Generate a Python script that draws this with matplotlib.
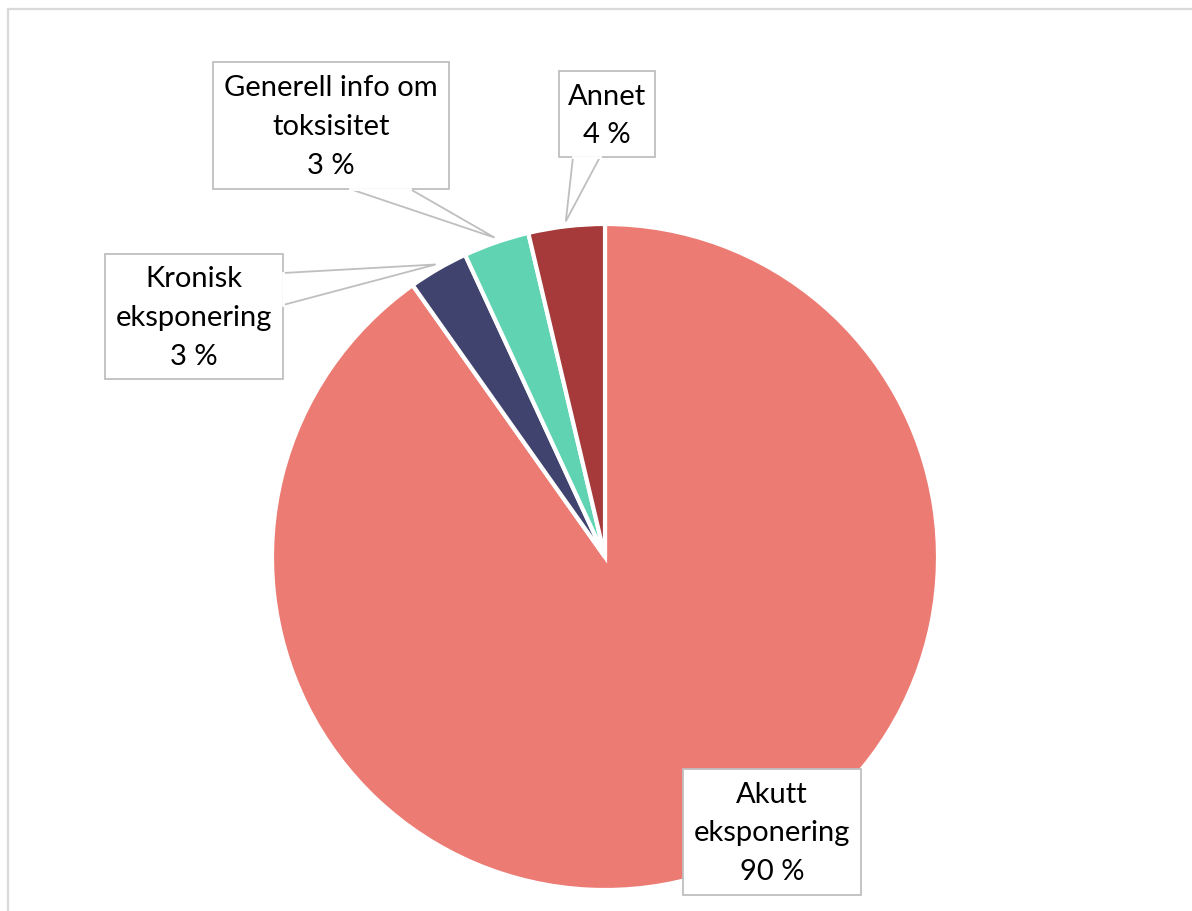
import numpy as np
import matplotlib.pyplot as plt
from matplotlib.patches import Polygon, Rectangle

# data
labels = ["Akutt\neksponering", "Kronisk\neksponering",
          "Generell info om\ntoksisitet", "Annet"]
values = [90.2, 2.9, 3.2, 3.7]
colors = ["#EC7B73", "#3F436E", "#60D4B2", "#A63A3A"]

W, H = 1192, 911
fig = plt.figure(figsize=(W / 100, H / 100), dpi=100)
ax = fig.add_axes([0, 0, 1, 1])

FONT = {"family": ["Lato", "DejaVu Sans"], "fontsize": 21, "color": "black"}
EDGE = "#BFBFBF"


def py(y):
    # pixel row -> data y
    return H - y


cx, cy, r = 605, py(557), 333
wedges, _ = ax.pie(values, colors=colors, startangle=90, counterclock=False,
                   center=(cx, cy), radius=r, frame=True,
                   wedgeprops=dict(edgecolor="white", linewidth=3))
ax.set_xlim(0, W)
ax.set_ylim(0, H)
ax.set_aspect("equal")
ax.axis("off")

# outer chart border (right/bottom run off the image)
ax.add_patch(Rectangle((8, py(1000)), 1300, 1000 - 9, fill=False,
                       ec="#D9D9D9", lw=1.6))

# callout boxes: (x0, y0, x1, y1) in pixel rows, pointer base, line rows
boxes = [
    dict(box=(683, 769, 861, 895), base=None, rows=[795, 833, 872]),
    dict(box=(105, 254, 283, 379), base=[(283, 273), (283, 305)], rows=[279, 318, 357]),
    dict(box=(213, 62, 449, 189), base=[(350, 189), (410, 189)], rows=[88, 127, 166]),
    dict(box=(559, 71, 655, 157), base=[(573, 157), (600, 157)], rows=[97, 135]),
]

total = sum(values)
for w, lab, v, b in zip(wedges, labels, values, boxes):
    x0, y0, x1, y1 = b["box"]
    mid = np.deg2rad((w.theta1 + w.theta2) / 2)
    tip = (cx + 1.015 * r * np.cos(mid), cy + 1.015 * r * np.sin(mid))
    ax.add_patch(Rectangle((x0, py(y1)), x1 - x0, y1 - y0, fc="white",
                           ec=EDGE, lw=1.3, zorder=5))
    if b["base"] is not None:
        (ax_, ay_), (bx_, by_) = b["base"]
        ax.add_patch(Polygon([(ax_, py(ay_)), tip, (bx_, py(by_))], closed=False,
                             fc="white", ec=EDGE, lw=1.3, zorder=4))
        ax.plot([ax_, bx_], [py(ay_), py(by_)], color="white", lw=2, zorder=5.5)
    lines = lab.split("\n") + [f"{round(v / total * 100):.0f} %"]
    for txt, row in zip(lines, b["rows"]):
        ax.text((x0 + x1) / 2, py(row), txt, ha="center", va="center",
                zorder=6, **FONT)

fig.savefig("out.png", dpi=100)
